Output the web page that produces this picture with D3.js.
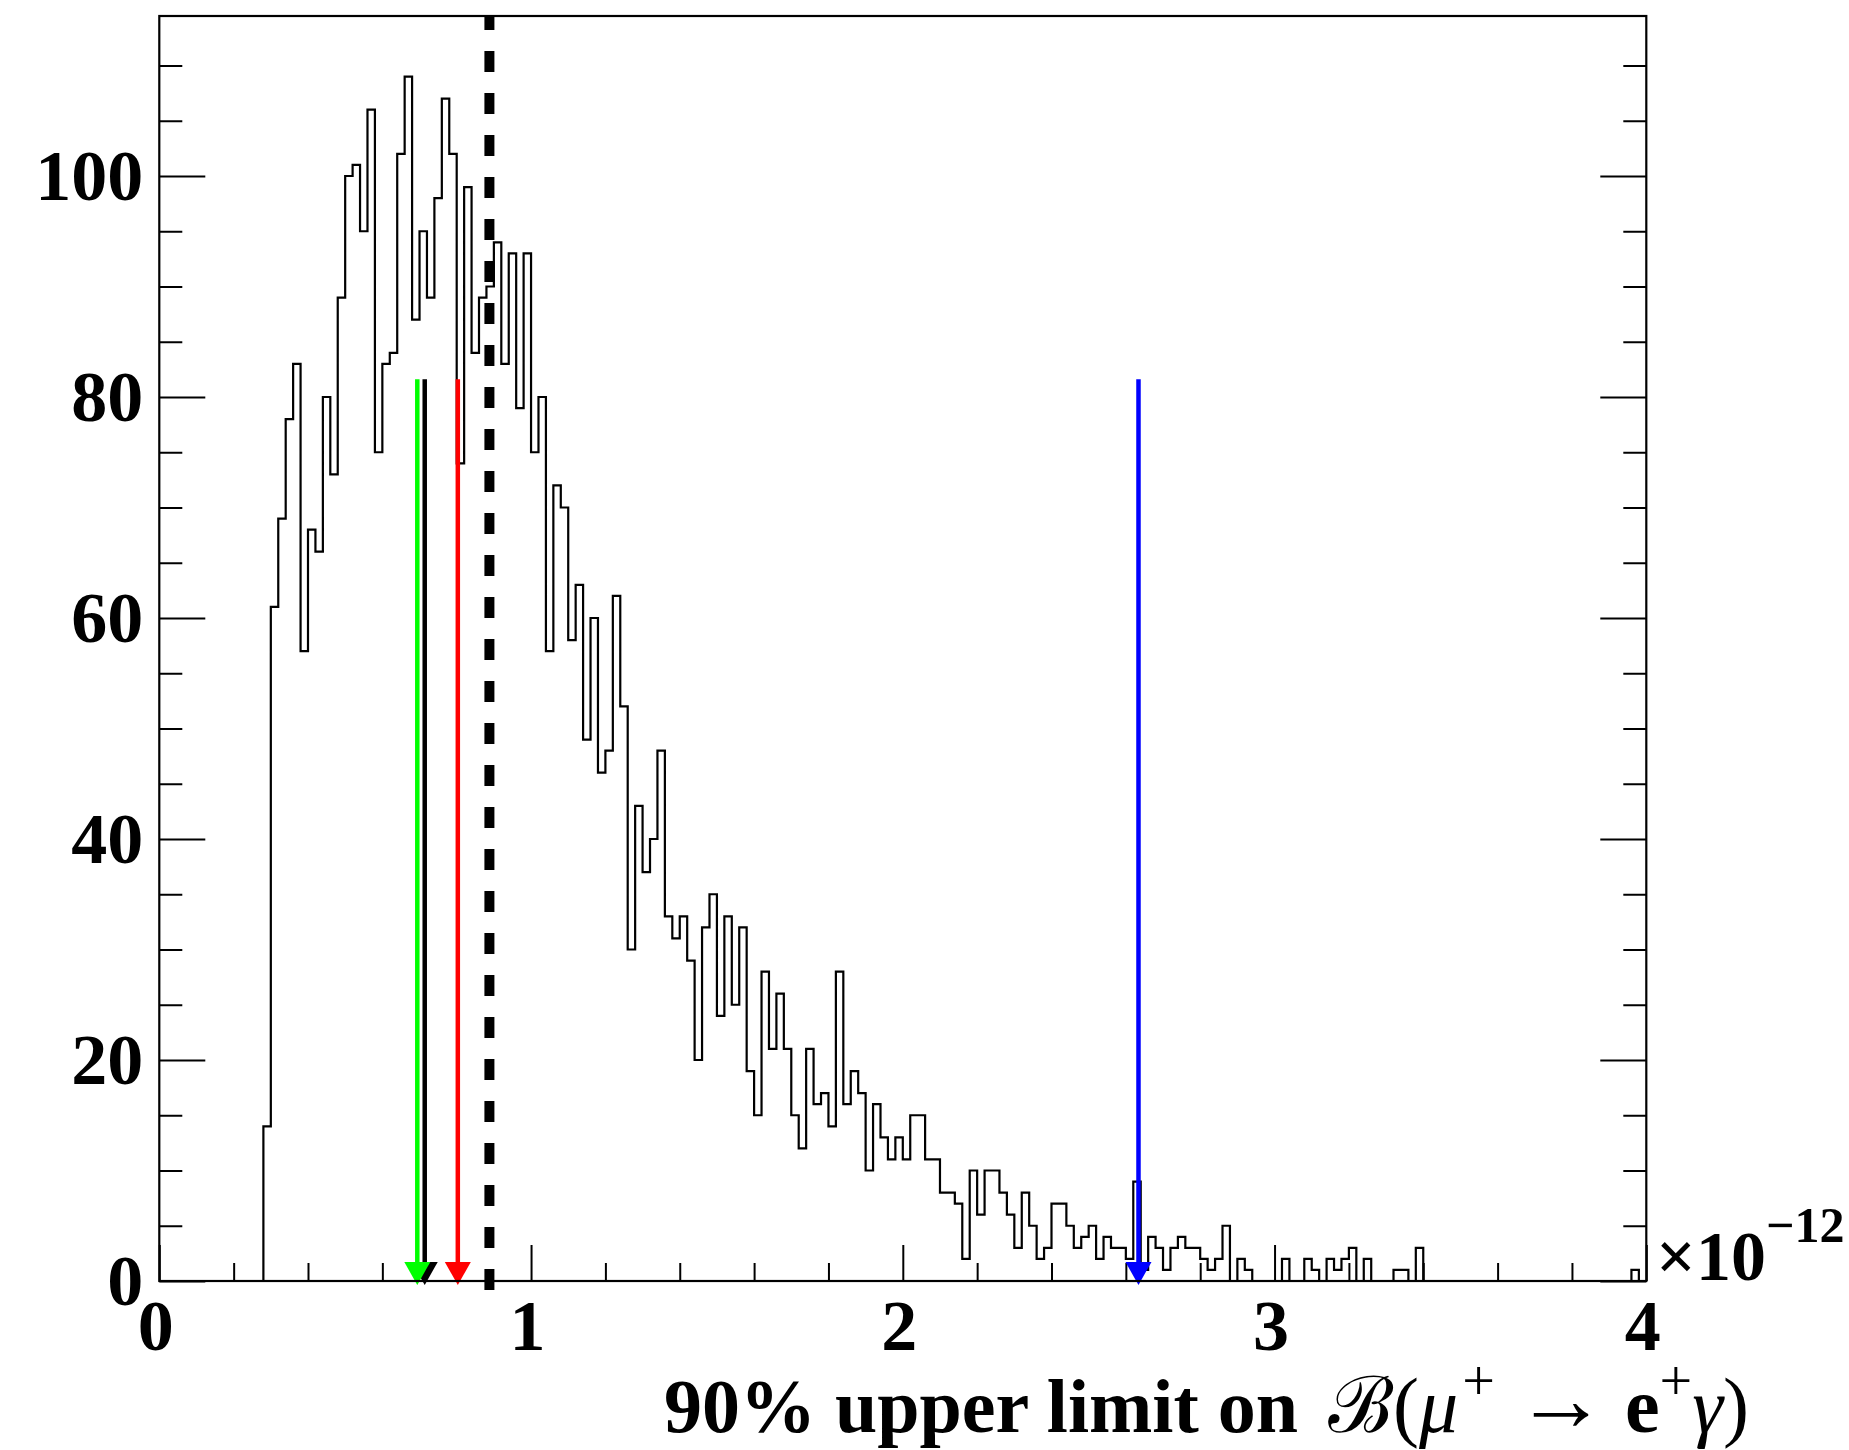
<!DOCTYPE html>
<html>
<head>
<meta charset="utf-8">
<script src="https://cdn.jsdelivr.net/npm/d3@7"></script>
<style>
  body { margin: 0; background: #fff; }
  text { font-family: 'Liberation Serif', 'Times New Roman', 'DejaVu Serif', serif; }
</style>
</head>
<body>
<div id="chart"></div>
<script>
// datos del histograma: 200 bins entre 0 y 4 (x10^-12)
var xLow = 0
var xHigh = 4
var binCounts = [
    0, 0, 0, 0, 0, 0, 0, 0, 0, 0, 0, 0, 0, 0, 14, 61, 69, 78, 83, 57,
    68, 66, 80, 73, 89, 100, 101, 95, 106, 75, 83, 84, 102, 109, 87, 95, 89, 98, 107, 102,
    74, 99, 84, 89, 90, 94, 83, 93, 79, 93, 75, 80, 57, 72, 70, 58, 63, 49, 60, 46,
    48, 62, 52, 30, 43, 37, 40, 48, 33, 31, 33, 29, 20, 32, 35, 24, 33, 25, 32, 19,
    15, 28, 21, 26, 21, 15, 12, 21, 16, 17, 14, 28, 16, 19, 17, 10, 16, 13, 11, 13,
    11, 15, 15, 11, 11, 8, 8, 7, 2, 10, 6, 10, 10, 8, 6, 3, 8, 5, 2, 3,
    7, 7, 5, 3, 4, 5, 2, 4, 3, 3, 2, 9, 1, 4, 3, 1, 3, 4, 3, 3,
    2, 1, 2, 5, 0, 2, 1, 0, 0, 0, 0, 2, 0, 0, 2, 1, 0, 2, 1, 2,
    3, 0, 2, 0, 0, 0, 1, 1, 0, 3, 0, 0, 0, 0, 0, 0, 0, 0, 0, 0,
    0, 0, 0, 0, 0, 0, 0, 0, 0, 0, 0, 0, 0, 0, 0, 0, 0, 0, 1, 0
]

// flechas (limites) y linea discontinua
var limitValues = [0.714, 0.694, 0.803, 2.634]
var limitColors = ['#000000', '#00ff00', '#ff0000', '#0000ff']
var arrowTop = 81.6
var dashedValue = 0.888

// ticks
var yMajorTicks = [0, 20, 40, 60, 80, 100]
var yMinorTicks = [5, 10, 15, 25, 30, 35, 45, 50, 55, 65, 70, 75, 85, 90, 95, 105, 110]
var xMajorTicks = [0, 1, 2, 3, 4]
var xMinorTicks = [0.2, 0.4, 0.6, 0.8, 1.2, 1.4, 1.6, 1.8, 2.2, 2.4, 2.6, 2.8, 3.2, 3.4, 3.6, 3.8]
var yMax = 114.48

// lienzo
var width = 1849
var height = 1450
var plotLeft = 159.3
var plotRight = 1646.3
var plotTop = 16
var plotBottom = 1281

var svg = d3.select('#chart')
    .append('svg')
    .attr('width', width)
    .attr('height', height);

var scaleX = d3.scaleLinear().domain([xLow, xHigh]).range([plotLeft, plotRight]);
var scaleY = d3.scaleLinear().domain([0, yMax]).range([plotBottom, plotTop]);

// histograma como linea escalonada
var binWidth = (xHigh - xLow) / binCounts.length
var steps = binCounts.map((c, i) => [xLow + i * binWidth, c])
steps.push([xHigh, binCounts[binCounts.length - 1]])

var line = d3.line()
    .x((d) => scaleX(d[0]))
    .y((d) => scaleY(d[1]))
    .curve(d3.curveStepAfter);

svg.append('path')
    .datum(steps)
    .attr('d', line)
    .attr('fill', 'none')
    .attr('stroke', '#000')
    .attr('stroke-width', 2.2);

// ejes: ticks mayores y menores hacia dentro
function styleAxis(g, fontSize){
    g.select('.domain').remove()
    g.selectAll('line').attr('stroke', '#000').attr('stroke-width', 2)
    g.selectAll('text')
        .attr('font-family', "'Liberation Serif', 'Times New Roman', serif")
        .attr('font-weight', 'bold')
        .attr('font-size', fontSize)
        .attr('fill', '#000')
}

svg.append('g')
    .attr('transform', 'translate(' + plotLeft + ',0)')
    .call(d3.axisLeft(scaleY).tickValues(yMajorTicks).tickSize(-46).tickPadding(16).tickFormat(d3.format('d')))
    .call((g) => styleAxis(g, '72px'));
svg.append('g')
    .attr('transform', 'translate(' + plotLeft + ',0)')
    .call(d3.axisLeft(scaleY).tickValues(yMinorTicks).tickSize(-23).tickFormat(''))
    .call((g) => styleAxis(g, '1px'));
svg.append('g')
    .attr('transform', 'translate(' + plotRight + ',0)')
    .call(d3.axisRight(scaleY).tickValues(yMajorTicks).tickSize(-46).tickFormat(''))
    .call((g) => styleAxis(g, '1px'));
svg.append('g')
    .attr('transform', 'translate(' + plotRight + ',0)')
    .call(d3.axisRight(scaleY).tickValues(yMinorTicks).tickSize(-23).tickFormat(''))
    .call((g) => styleAxis(g, '1px'));

svg.append('g')
    .attr('transform', 'translate(0,' + plotBottom + ')')
    .call(d3.axisBottom(scaleX).tickValues(xMajorTicks).tickSize(-36).tickPadding(18).tickFormat(d3.format('d')))
    .call((g) => styleAxis(g, '72px'))
    .call((g) => g.selectAll('text').attr('dx', -4));
svg.append('g')
    .attr('transform', 'translate(0,' + plotBottom + ')')
    .call(d3.axisBottom(scaleX).tickValues(xMinorTicks).tickSize(-18).tickFormat(''))
    .call((g) => styleAxis(g, '1px'));

// linea discontinua
var xd = scaleX(dashedValue)
svg.append('line')
    .attr('x1', xd).attr('x2', xd)
    .attr('y1', plotBottom + 9).attr('y2', plotTop)
    .attr('stroke', '#000')
    .attr('stroke-width', 10)
    .attr('stroke-dasharray', '21,21');

// flechas
var headBase = 1262
var headTip = 1285
limitValues.forEach((v, i) => {
    var x = scaleX(v)
    svg.append('line')
        .attr('x1', x).attr('x2', x)
        .attr('y1', scaleY(arrowTop)).attr('y2', headBase + 2)
        .attr('stroke', limitColors[i])
        .attr('stroke-width', 4.5);
    svg.append('path')
        .attr('d', 'M' + (x - 13) + ',' + headBase + 'L' + (x + 13) + ',' + headBase + 'L' + x + ',' + headTip + 'Z')
        .attr('fill', limitColors[i]);
});

// marco
svg.append('rect')
    .attr('x', plotLeft).attr('y', plotTop)
    .attr('width', plotRight - plotLeft)
    .attr('height', plotBottom - plotTop)
    .attr('fill', 'none')
    .attr('stroke', '#000')
    .attr('stroke-width', 2.2);

// exponente del eje x
var expo = svg.append('text')
    .attr('x', 1656)
    .attr('y', 1280)
    .attr('font-weight', 'bold')
    .attr('font-size', '70px')
    .text('\u00d710');
expo.append('tspan')
    .attr('dy', -38)
    .attr('font-size', '50px')
    .text('\u221212');

// titulo del eje x
var title = svg.append('text')
    .attr('x', 1749)
    .attr('y', 1432)
    .attr('text-anchor', 'end')
    .attr('font-size', '76px')
    .style('white-space', 'pre');
title.append('tspan').attr('font-weight', 'bold').text('90% upper limit on');
title.append('tspan').attr('dx', 30).attr('font-size', '78px').text('\u212c(');
title.append('tspan').attr('font-size', '78px').attr('font-style', 'italic').text('\u03bc');
title.append('tspan').attr('font-size', '58px').attr('dx', 4).attr('dy', -32).text('+');
title.append('tspan').attr('font-size', '92px').attr('font-weight', 'bold').attr('dx', 20).attr('dy', 30).text('\u2192');
title.append('tspan').attr('font-size', '78px').attr('dx', 18).attr('dy', 2).attr('font-weight', 'bold').text('e');
title.append('tspan').attr('font-size', '58px').attr('dy', -32).text('+');
title.append('tspan').attr('font-size', '78px').attr('dy', 32).attr('font-style', 'italic').text('\u03b3');
title.append('tspan').attr('font-size', '78px').text(')');
</script>
</body>
</html>
